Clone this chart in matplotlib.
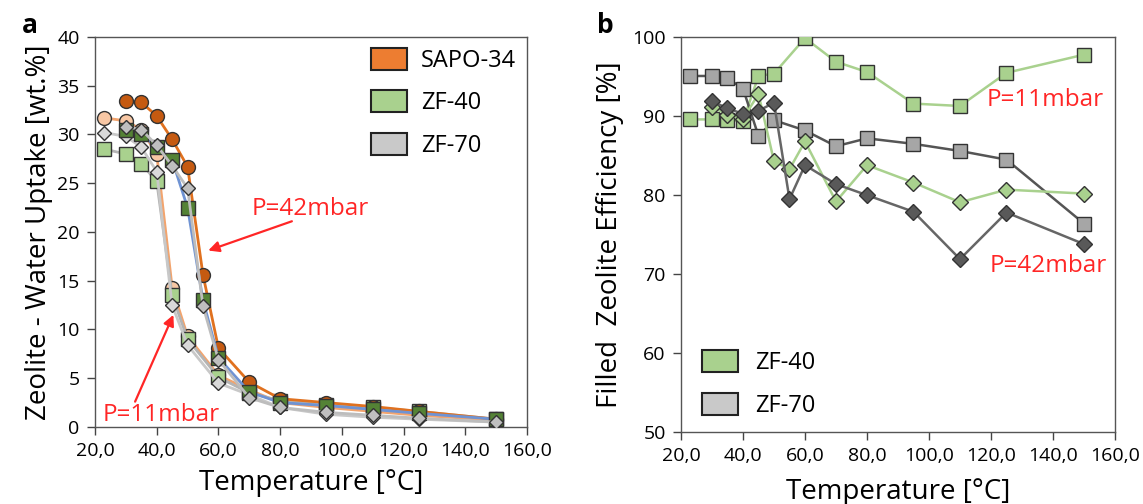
import matplotlib.pyplot as plt
from matplotlib.patches import Patch
from matplotlib.ticker import FuncFormatter, MultipleLocator

plt.rcParams['font.family'] = ['Open Sans', 'DejaVu Sans']

# --- panel a: water uptake [wt.%] vs temperature [°C]
T_a42 = [30, 35, 40, 45, 50, 55, 60, 70, 80, 95, 110, 125, 150]
T_a11 = [23, 30, 35, 40, 45, 50, 60, 70, 80, 95, 110, 125, 150]

sapo_42 = [33.4, 33.3, 31.9, 29.5, 26.7, 15.6, 8.1, 4.6, 2.9, 2.5, 2.1, 1.6, 0.8]
zf40_42 = [30.5, 30.0, 28.7, 27.4, 22.5, 13.0, 7.1, 3.6, 2.5, 2.2, 1.8, 1.4, 0.8]
zf70_42 = [30.8, 30.5, 28.9, 26.8, 24.5, 12.4, 6.9, 3.0, 2.0, 1.5, 1.2, 0.9, 0.5]

sapo_11 = [31.7, 31.4, 30.5, 28.0, 14.3, 9.3, 5.3, 3.8, 2.5, 2.0, 1.6, 1.2, 0.7]
zf40_11 = [28.5, 28.0, 27.0, 25.2, 13.5, 9.0, 5.1, 3.5, 2.7, 2.3, 2.0, 1.6, 0.8]
zf70_11 = [30.2, 29.8, 28.7, 26.2, 12.5, 8.4, 4.5, 3.3, 2.0, 1.3, 1.0, 0.8, 0.5]

# --- panel b: filled zeolite efficiency [%]
T_sq = [23, 30, 35, 40, 45, 50, 60, 70, 80, 95, 110, 125, 150]
T_di = [30, 35, 40, 45, 50, 55, 60, 70, 80, 95, 110, 125, 150]

eff_zf40_11 = [89.6, 89.6, 89.5, 89.4, 95.1, 95.4, 99.9, 96.9, 95.6, 91.6, 91.3, 95.5, 97.8]
eff_zf70_11 = [95.1, 95.1, 94.8, 93.5, 87.5, 89.5, 88.2, 86.2, 87.2, 86.5, 85.6, 84.5, 76.4]
eff_zf40_42 = [91.2, 90.2, 89.7, 92.8, 84.3, 83.3, 86.8, 79.2, 83.8, 81.6, 79.1, 80.7, 80.2]
eff_zf70_42 = [91.9, 91.0, 90.3, 90.7, 91.7, 79.5, 83.8, 81.4, 80.0, 77.9, 71.9, 77.8, 73.8]

red = '#ff2626'
edge = '#333333'
arrow = dict(arrowstyle='-|>', color=red, lw=1.6, mutation_scale=16,
             shrinkA=0, shrinkB=0)


def comma(x, pos):
    return ('%.1f' % x).replace('.', ',')


fig = plt.figure(figsize=(11.43, 5.04), dpi=100)
ax1 = fig.add_axes([0.0831, 0.1528, 0.3780, 0.7738])
ax2 = fig.add_axes([0.5958, 0.1429, 0.3797, 0.7831])

# 11 mbar curves
ax1.plot(T_a11, sapo_11, '-o', color='#f2a46e', lw=2, mfc='#f8c7a4', mec=edge, ms=10, zorder=3)
ax1.plot(T_a11, zf40_11, '-s', color='#b4b4b4', lw=2, mfc='#a9d18e', mec=edge, ms=9.5, zorder=3)
ax1.plot(T_a11, zf70_11, '-D', color='#c8c8c8', lw=2, mfc='#d9d9d9', mec=edge, ms=7.5, zorder=3)
# 42 mbar curves
ax1.plot(T_a42, sapo_42, '-o', color='#e0711f', lw=2, mfc='#c55a11', mec=edge, ms=10, zorder=4)
ax1.plot(T_a42, zf40_42, '-s', color='#6f93d3', lw=2, mfc='#548235', mec=edge, ms=9.5, zorder=4)
ax1.plot(T_a42, zf70_42, '-D', color='#bdbdbd', lw=2, mfc='#bfbfbf', mec=edge, ms=7.5, zorder=4)

ax1.set_xlim(20, 160)
ax1.set_ylim(0, 40)
ax1.xaxis.set_major_locator(MultipleLocator(20))
ax1.yaxis.set_major_locator(MultipleLocator(5))
ax1.xaxis.set_major_formatter(FuncFormatter(comma))
ax1.set_xlabel('Temperature [°C]', fontsize=20, labelpad=6)
ax1.set_ylabel('Zeolite - Water Uptake [wt.%]', fontsize=20, labelpad=3)

leg_a = [Patch(fc='#ed7d31', ec='#222222', lw=1.5, label='SAPO-34'),
         Patch(fc='#a9d18e', ec='#222222', lw=1.5, label='ZF-40'),
         Patch(fc='#c9c9c9', ec='#222222', lw=1.5, label='ZF-70')]
ax1.legend(handles=leg_a, loc='upper right', frameon=False, fontsize=17,
           handlelength=1.55, handleheight=1.05, labelspacing=0.75,
           borderaxespad=0.15, handletextpad=0.6, borderpad=0.3)

ax1.text(70.6, 22.4, 'P=42mbar', color=red, fontsize=17.5, va='center')
ax1.annotate('', xy=(56.7, 18.1), xytext=(83.8, 21.1), arrowprops=arrow)
ax1.text(22.5, 1.25, 'P=11mbar', color=red, fontsize=17.5, va='center')
ax1.annotate('', xy=(45.4, 11.5), xytext=(33.0, 2.6), arrowprops=arrow)

# efficiency curves
ax2.plot(T_sq, eff_zf40_11, '-s', color='#a9d18e', lw=1.8, mfc='#a9d18e', mec=edge, ms=10.5, zorder=3)
ax2.plot(T_sq, eff_zf70_11, '-s', color='#555555', lw=1.8, mfc='#a6a6a6', mec=edge, ms=10.5, zorder=3)
ax2.plot(T_di, eff_zf40_42, '-D', color='#a9d18e', lw=1.8, mfc='#a9d18e', mec=edge, ms=8.5, zorder=4)
ax2.plot(T_di, eff_zf70_42, '-D', color='#666666', lw=1.8, mfc='#595959', mec=edge, ms=8.5, zorder=4)

ax2.set_xlim(20, 160)
ax2.set_ylim(50, 100)
ax2.xaxis.set_major_locator(MultipleLocator(20))
ax2.yaxis.set_major_locator(MultipleLocator(10))
ax2.xaxis.set_major_formatter(FuncFormatter(comma))
ax2.set_xlabel('Temperature [°C]', fontsize=20, labelpad=9)
ax2.set_ylabel('Filled  Zeolite Efficiency [%]', fontsize=20, labelpad=6)

leg_b = [Patch(fc='#a9d18e', ec='#222222', lw=1.5, label='ZF-40'),
         Patch(fc='#c9c9c9', ec='#222222', lw=1.5, label='ZF-70')]
ax2.legend(handles=leg_b, loc='lower left', frameon=False, fontsize=17,
           handlelength=1.55, handleheight=1.05, labelspacing=0.75,
           borderaxespad=0.3, handletextpad=0.7, borderpad=0.3,
           bbox_to_anchor=(0.015, 0.0))

ax2.text(118.7, 92.0, 'P=11mbar', color=red, fontsize=17.5, va='center')
ax2.text(119.7, 71.0, 'P=42mbar', color=red, fontsize=17.5, va='center')

for ax in (ax1, ax2):
    ax.tick_params(direction='out', length=6, width=1, labelsize=14, color='#444444', pad=5)
    for sp in ax.spines.values():
        sp.set_color('#555555')
        sp.set_linewidth(1)

fig.text(0.019, 0.935, 'a', fontsize=19, fontweight='bold')
fig.text(0.522, 0.935, 'b', fontsize=19, fontweight='bold')

fig.savefig('out.png', dpi=100)
